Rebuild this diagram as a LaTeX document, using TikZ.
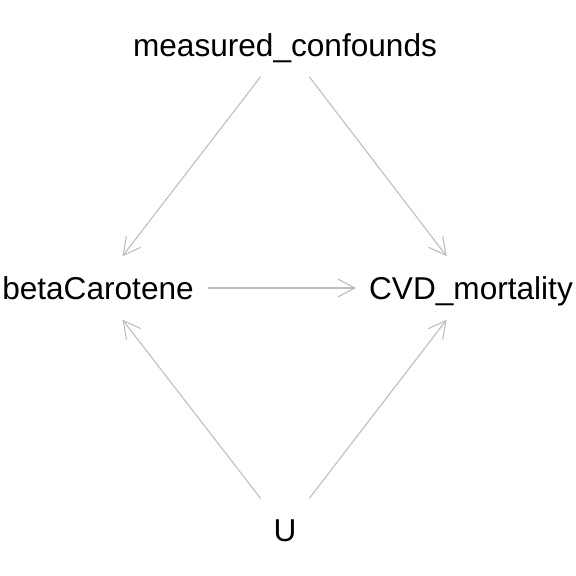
\documentclass[tikz,border=0pt]{standalone}
\usepackage{fontspec}
\setmainfont{Liberation Sans}
\usetikzlibrary{arrows.meta}
\definecolor{edgegray}{RGB}{190,190,190}
\tikzset{
  var/.style={inner sep=0pt, text height=22.6pt, text depth=0pt, font=\fontsize{31.6}{36}\selectfont, text=black},
  edge/.style={draw=edgegray, line width=1.1pt, -{Straight Barb[length=17pt,width=18pt,line width=1.1pt]}, shorten <=40pt, shorten >=40pt}
}
\begin{document}
\begin{tikzpicture}[x=1pt,y=-1pt]
\useasboundingbox (0,0) rectangle (576,576);
\node[var] (M) at (285,45) {measured\_confounds};
\node[var] (B) at (98,288) {betaCarotene};
\node[var] (C) at (471,288) {CVD\_mortality};
\node[var] (U) at (285,530) {U};
\draw[edge] (M.center) -- (B.center);
\draw[edge] (M.center) -- (C.center);
\draw[edge] (U.center) -- (B.center);
\draw[edge] (U.center) -- (C.center);
\draw[edge, shorten <=110pt, shorten >=115pt] (B.center) -- (C.center);
\end{tikzpicture}
\end{document}
